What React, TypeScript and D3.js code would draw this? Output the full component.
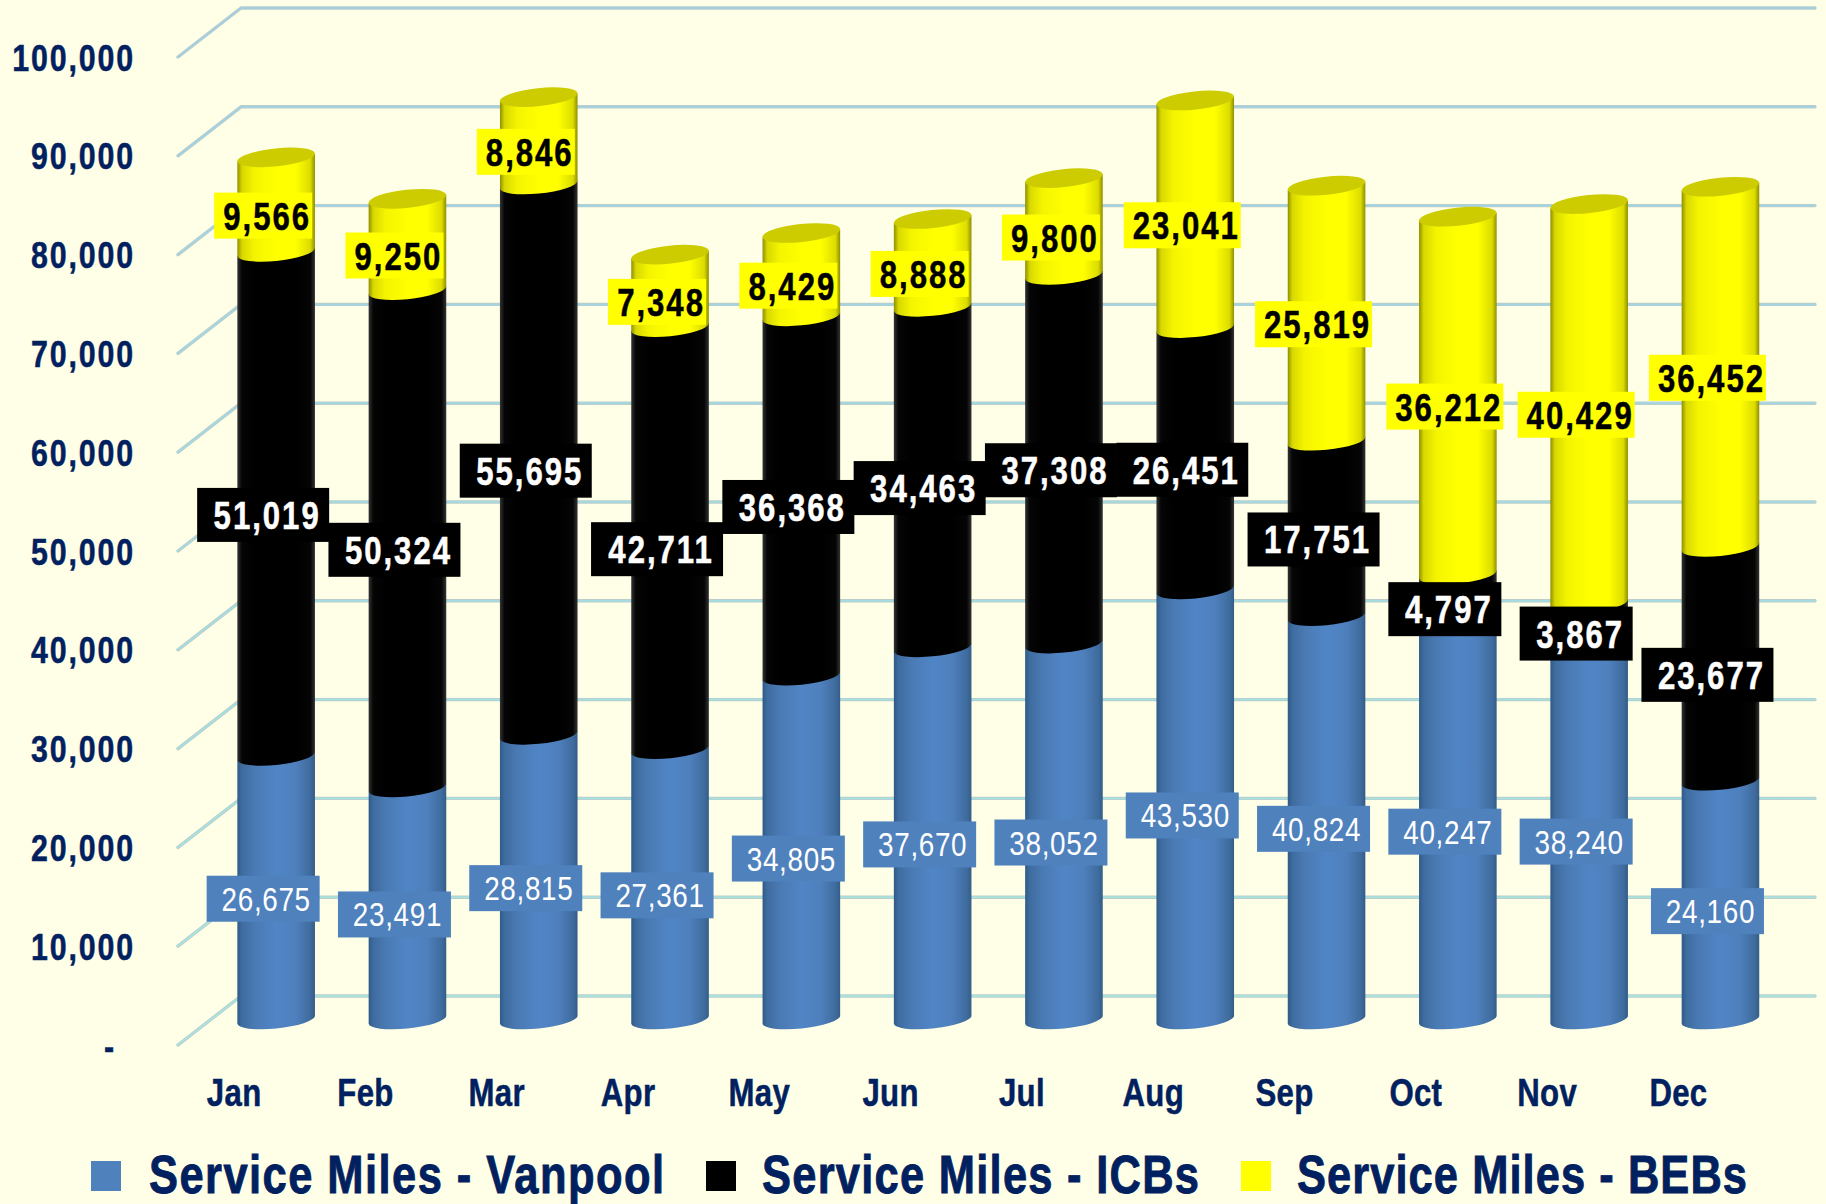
import React from "react";
import * as d3 from "d3";

const months = ["Jan", "Feb", "Mar", "Apr", "May", "Jun", "Jul", "Aug", "Sep", "Oct", "Nov", "Dec"];
const vanpool = [26675, 23491, 28815, 27361, 34805, 37670, 38052, 43530, 40824, 40247, 38240, 24160];
const icbs = [51019, 50324, 55695, 42711, 36368, 34463, 37308, 26451, 17751, 4797, 3867, 23677];
const bebs = [9566, 9250, 8846, 7348, 8429, 8888, 9800, 23041, 25819, 36212, 40429, 36452];
const yTicks = [0, 10000, 20000, 30000, 40000, 50000, 60000, 70000, 80000, 90000, 100000];
const seriesNames = ["Service Miles - Vanpool", "Service Miles - ICBs", "Service Miles - BEBs"];

const W = 1826, H = 1204;
const NAVY = "#002060";
const FONT = "'Liberation Sans', Arial, sans-serif";
const NARROW = 0.82;
const y = d3.scaleLinear().domain([0, 100000]).range([1019.5, 31.5]);
const x = d3.scaleBand<string>().domain(months).range([210.5, 210.5 + 131.3 * 12]).paddingInner(1 - 77 / 131.3).paddingOuter((1 - 77 / 131.3) / 2);
const fmt = d3.format(",");
const RX = 38.8, RY = 9, TILT = 3.9;
const series = [
  { key: "van", values: vanpool, fill: "url(#gBlue)", box: "#4f81bd", text: "#ffffff", weight: 400, size: 34, ls: 0.8, w5: 113, w6: 113, h: 46, legend: "#4f81bd", sw: 0, dx: 3 },
  { key: "icb", values: icbs, fill: "url(#gBlack)", box: "#000000", text: "#ffffff", weight: 700, size: 38, ls: 2.4, w5: 113, w6: 132, h: 54, legend: "#000000", sw: 0.5, dx: 4 },
  { key: "beb", values: bebs, fill: "url(#gYellow)", box: "#ffff00", text: "#000000", weight: 700, size: 38, ls: 2.4, w5: 98, w6: 117, h: 46, legend: "#ffff00", sw: 0.5, dx: 4 },
];
const stacked = d3.stack<number>().keys(["0", "1", "2"]).value((i, k) => [vanpool, icbs, bebs][+k][i])(months.map((_, i) => i));

function segPath(cx: number, y0: number, y1: number) {
  return `M${cx - RX},${y1 + TILT} L${cx + RX},${y1 - TILT} L${cx + RX},${y0 - TILT} A${RX + 0.2},${RY} -6 0 1 ${cx - RX},${y0 + TILT} Z`;
}
function Stops({ c }: { c: string[] }) {
  const o = [0, 0.06, 0.22, 0.5, 0.75, 0.94, 1];
  return <>{c.map((col, i) => <stop key={i} offset={o[i]} stopColor={col} />)}</>;
}
function NText({ x: tx, y: ty, children, ...rest }: any) {
  return <text transform={`translate(${tx},${ty}) scale(${NARROW},1)`} {...rest}>{children}</text>;
}
const legendLayout = [
  { mx: 91, tx: 149, tw: 515 },
  { mx: 706, tx: 762, tw: 437 },
  { mx: 1241, tx: 1297, tw: 450 },
];

export default function App() {
  const cxOf = (m: string) => x(m)! + x.bandwidth() / 2;
  return (
    <svg width={W} height={H} viewBox={`0 0 ${W} ${H}`} style={{ position: "absolute", left: 0, top: 0, background: "#ffffe7", display: "block" }}>
      <defs>
        <linearGradient id="gBlue"><Stops c={["#2f5a88", "#3f6c9f", "#4a7ab3", "#5085c6", "#4f80bd", "#3f6c9e", "#345d87"]} /></linearGradient>
        <linearGradient id="gBlack"><Stops c={["#333", "#050505", "#000", "#000", "#000", "#050505", "#333"]} /></linearGradient>
        <linearGradient id="gYellow"><Stops c={["#8f8f00", "#d8d800", "#f4f400", "#ffff00", "#ffff00", "#dcdc00", "#8f8f00"]} /></linearGradient>
        <linearGradient id="gGrid" gradientUnits="userSpaceOnUse" x1="0" y1="0" x2="0" y2="1000">
          <stop offset="0" stopColor="#9ccfe8" /><stop offset="1" stopColor="#a5e8e2" />
        </linearGradient>
      </defs>

      <g fill="none" strokeLinejoin="round" strokeLinecap="round">
        {yTicks.map(t => {
          const b = y(t) - 23.5, f = y(t) + 25.5;
          const d = `M178,${f} L241,${b} L1815,${b}`;
          return <g key={t}>
            <path d={d} stroke="#bccdc9" strokeWidth={3.4} />
            <path d={d} stroke="url(#gGrid)" strokeWidth={1.5} />
          </g>;
        })}
      </g>

      {months.map((m, i) => {
        const cx = cxOf(m);
        const top = y(stacked[2][i][1]);
        return <g key={m}>
          {series.map((s, si) => (
            <path key={s.key} d={segPath(cx, y(stacked[si][i][0]), y(stacked[si][i][1]))} fill={s.fill} />
          ))}
          <ellipse cx={cx} cy={top} rx={RX + 0.2} ry={RY} transform={`rotate(-6 ${cx} ${top})`} fill="#cccc00" />
        </g>;
      })}

      {series.map((s, si) => months.map((m, i) => {
        const v = s.values[i];
        const cx = cxOf(m) - 13;
        const cy = y((stacked[si][i][0] + stacked[si][i][1]) / 2) + 11;
        const w = v >= 10000 ? s.w6 : s.w5;
        return <g key={s.key + m}>
          <rect x={cx - w / 2} y={cy - s.h / 2} width={w} height={s.h} fill={s.box} />
          <NText x={cx + s.dx} y={cy + (si === 0 ? 12 : 14)} textAnchor="middle" fontFamily={FONT} fontWeight={s.weight} fontSize={s.size} letterSpacing={s.ls} fill={s.text} stroke={s.text} strokeWidth={s.sw}>{fmt(v)}</NText>
        </g>;
      }))}

      <g fontFamily={FONT} fontWeight={700} fill={NAVY} stroke={NAVY} strokeWidth={0.5}>
        {yTicks.map(t => (
          <NText key={t} x={t === 0 ? 116 : 135} y={y(t) + 39} textAnchor="end" fontSize={37} letterSpacing={2.3}>{t === 0 ? "-" : fmt(t)}</NText>
        ))}
        {months.map(m => (
          <NText key={m} x={cxOf(m) - 42} y={1106} textAnchor="middle" fontSize={38} letterSpacing={0.4}>{m}</NText>
        ))}
        {seriesNames.map((n, i) => (
          <g key={n}>
            <rect x={legendLayout[i].mx} y={1161} width={30} height={30} fill={series[i].legend} stroke="none" />
            <NText x={legendLayout[i].tx} y={1193} fontSize={53} strokeWidth={0.9} textLength={legendLayout[i].tw / NARROW} lengthAdjust="spacing">{n}</NText>
          </g>
        ))}
      </g>
    </svg>
  );
}
